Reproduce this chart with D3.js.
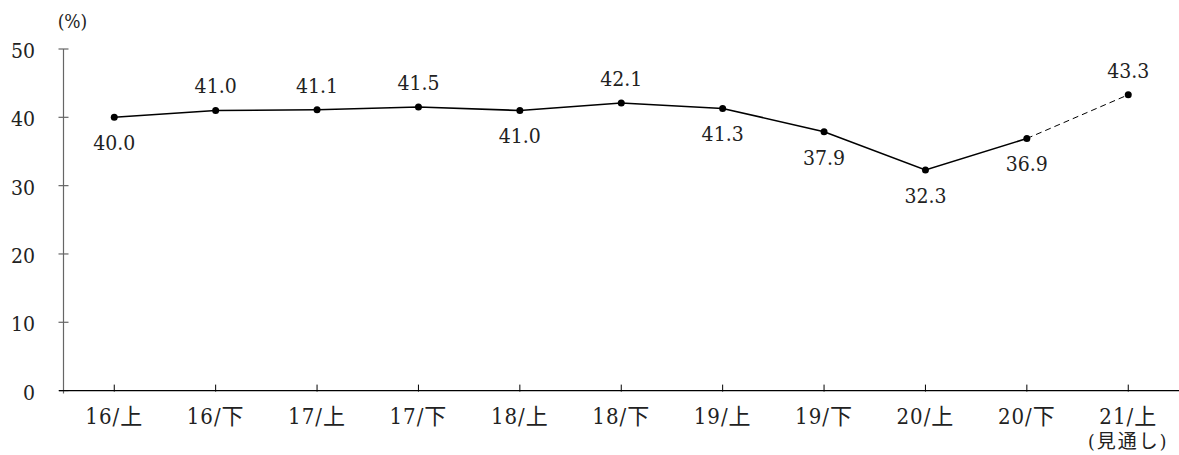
<!DOCTYPE html>
<html lang="ja">
<head>
  <meta charset="UTF-8">
  <script src="https://d3js.org/d3.v7.min.js"></script>
  <style>
    body {
      margin: 0;
      padding: 0;
      background-color: #fff;
    }
    svg text {
      font-stretch: condensed;
    }
  </style>
</head>
<body>
  <div id="chart"></div>
  <script>
    const categories = ["16/上", "16/下", "17/上", "17/下", "18/上", "18/下", "19/上", "19/下", "20/上", "20/下", "21/上"];
    const values = [40.0, 41.0, 41.1, 41.5, 41.0, 42.1, 41.3, 37.9, 32.3, 36.9, 43.3];
    const labelSide = ["below", "above", "above", "above", "below", "above", "below", "below", "below", "below", "above"];
    const yTicks = [0, 10, 20, 30, 40, 50];
    const forecastIndex = 10; // 21/上 is a forecast (見通し)

    const width = 1179, height = 455;
    const FONT = "'DejaVu Serif Condensed', 'DejaVu Serif', 'Noto Sans CJK JP', serif";

    const svg = d3.select("#chart")
      .append("svg")
      .attr("width", width)
      .attr("height", height)
      .attr("font-family", FONT)
      .attr("fill", "#222");

    const x = d3.scalePoint()
      .domain(categories)
      .range([63.5 + 50.75, 63.5 + 50.75 + 10 * 101.4]);

    const y = d3.scaleLinear()
      .domain([0, 50])
      .range([390.6, 49]);

    // y axis
    const yAxis = svg.append("g")
      .attr("transform", "translate(63.5,0)");
    yAxis.append("line")
      .attr("y1", y(50)).attr("y2", y(0) + 3)
      .attr("stroke", "#666").attr("stroke-width", 1.2);
    yAxis.selectAll("line.tick")
      .data(yTicks)
      .enter().append("line")
      .attr("class", "tick")
      .attr("x1", -5).attr("x2", 5)
      .attr("y1", d => y(d)).attr("y2", d => y(d))
      .attr("stroke", "#666").attr("stroke-width", 1.2);
    yAxis.selectAll("text")
      .data(yTicks)
      .enter().append("text")
      .attr("x", -28.5)
      .attr("y", d => y(d) + 9)
      .attr("text-anchor", "end")
      .attr("font-size", 21)
      .text(d => d);

    svg.append("text")
      .attr("x", 72.5)
      .attr("y", 28)
      .attr("text-anchor", "middle")
      .attr("font-size", 19)
      .text("(%)");

    // x axis
    const xAxis = svg.append("g")
      .attr("transform", `translate(0,${y(0)})`);
    xAxis.append("line")
      .attr("x1", 59).attr("x2", width)
      .attr("stroke", "#000").attr("stroke-width", 1.2);
    xAxis.selectAll("line.tick")
      .data(categories)
      .enter().append("line")
      .attr("class", "tick")
      .attr("x1", d => x(d)).attr("x2", d => x(d))
      .attr("y1", -6).attr("y2", 1)
      .attr("stroke", "#000").attr("stroke-width", 1);
    xAxis.selectAll("text.cat")
      .data(categories)
      .enter().append("text")
      .attr("class", "cat")
      .attr("x", d => x(d))
      .attr("y", 33)
      .attr("text-anchor", "middle")
      .attr("font-size", 22)
      .attr("letter-spacing", 1)
      .text(d => d);
    xAxis.append("text")
      .attr("x", x(categories[forecastIndex]))
      .attr("y", 57)
      .attr("text-anchor", "middle")
      .attr("font-size", 19)
      .attr("letter-spacing", 2)
      .text("(見通し)");

    const points = categories.map((c, i) => ({ c, v: values[i], side: labelSide[i], i }));

    const line = d3.line()
      .x(d => x(d.c))
      .y(d => y(d.v));

    svg.append("path")
      .datum(points.slice(0, forecastIndex))
      .attr("d", line)
      .attr("fill", "none")
      .attr("stroke", "#000")
      .attr("stroke-width", 1.6);

    svg.append("path")
      .datum(points.slice(forecastIndex - 1))
      .attr("d", line)
      .attr("fill", "none")
      .attr("stroke", "#000")
      .attr("stroke-width", 1)
      .attr("stroke-dasharray", "6,4");

    svg.selectAll("circle")
      .data(points)
      .enter().append("circle")
      .attr("cx", d => x(d.c))
      .attr("cy", d => y(d.v))
      .attr("r", 3.5)
      .attr("fill", "#000");

    svg.selectAll("text.val")
      .data(points)
      .enter().append("text")
      .attr("class", "val")
      .attr("x", d => x(d.c))
      .attr("y", d => y(d.v) + (d.side === "above" ? -17 : 33))
      .attr("text-anchor", "middle")
      .attr("font-size", 21)
      .text(d => d.v.toFixed(1));
  </script>
</body>
</html>
